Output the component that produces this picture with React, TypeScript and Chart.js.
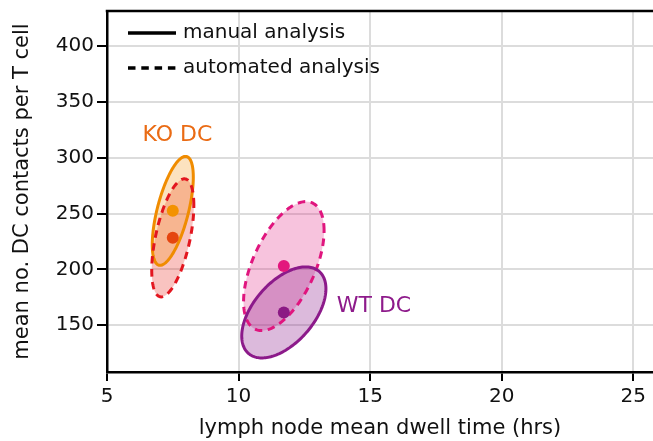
import React, { useEffect, useRef } from 'react';
import { Chart, registerables } from 'chart.js';

Chart.register(...registerables);

// ---- data ----
const groupNames = ['KO DC manual', 'KO DC automated', 'WT DC automated', 'WT DC manual'];
const meanDwellHrs = [7.5, 7.5, 11.72, 11.72];
const meanContacts = [252.4, 228.2, 202.9, 161.4];
const spreadDwellHrs = [0.78, 0.8, 1.53, 1.6];
const spreadContacts = [48.8, 52.9, 57.8, 40.8];
const spreadCorrelation = [0.62, 0.55, 0.55, 0.52];
const analysisMethod = ['manual', 'automated', 'automated', 'manual'];

const xTicks = [5, 10, 15, 20, 25];
const yTicks = [150, 200, 250, 300, 350, 400];
const xRange = [5, 25.75];
const yRange = [108, 431.5];

const groupLabels = ['KO DC', 'WT DC'];
const groupLabelDwell = [6.35, 13.73];
const groupLabelContacts = [320, 167];

const legendLabels = ['manual analysis', 'automated analysis'];
const xTitle = 'lymph node mean dwell time (hrs)';
const yTitle = 'mean no. DC contacts per T cell';

// ---- styles ----
const FONT = "'DejaVu Sans', sans-serif";
const strokeColors = ['#F08C00', '#E3161F', '#E0157E', '#8C1A8A'];
const fillColors = [
  'rgba(242,140,0,0.25)',
  'rgba(232,40,30,0.28)',
  'rgba(226,25,125,0.26)',
  'rgba(140,26,138,0.3)',
];
const pointColors = ['#F39200', '#E5450F', '#E3177D', '#8B1A84'];
const groupLabelColors = ['#EA6B14', '#8E1B8B'];

const ellipsePlugin = {
  id: 'ellipses',
  beforeDatasetsDraw(chart: any) {
    const { ctx, chartArea, scales } = chart;
    const xs = scales.x;
    const ys = scales.y;
    ctx.save();
    ctx.beginPath();
    ctx.rect(chartArea.left, chartArea.top, chartArea.right - chartArea.left, chartArea.bottom - chartArea.top);
    ctx.clip();
    const N = 180;
    const paths = meanDwellHrs.map((cx, i) => {
      const cy = meanContacts[i];
      const sx = spreadDwellHrs[i];
      const sy = spreadContacts[i];
      const r = spreadCorrelation[i];
      const q = Math.sqrt(1 - r * r);
      const pts: [number, number][] = [];
      for (let k = 0; k <= N; k++) {
        const t = (2 * Math.PI * k) / N;
        const dx = sx * Math.cos(t);
        const dy = sy * (r * Math.cos(t) + q * Math.sin(t));
        pts.push([xs.getPixelForValue(cx + dx), ys.getPixelForValue(cy + dy)]);
      }
      return pts;
    });
    const trace = (pts: [number, number][]) => {
      ctx.beginPath();
      pts.forEach(([px, py], k) => (k === 0 ? ctx.moveTo(px, py) : ctx.lineTo(px, py)));
      ctx.closePath();
    };
    const fillOrder = [1, 0, 2, 3];
    fillOrder.forEach((i) => {
      trace(paths[i]);
      ctx.fillStyle = fillColors[i];
      ctx.fill();
    });
    const strokeOrder = [0, 1, 2, 3];
    strokeOrder.forEach((i) => {
      trace(paths[i]);
      ctx.lineWidth = 3;
      ctx.lineJoin = 'round';
      ctx.strokeStyle = strokeColors[i];
      ctx.setLineDash(analysisMethod[i] === 'automated' ? [7.5, 5.5] : []);
      ctx.stroke();
    });
    ctx.restore();
  },
  afterDatasetsDraw(chart: any) {
    const { ctx, chartArea, scales } = chart;
    const xs = scales.x;
    const ys = scales.y;
    ctx.save();
    // top frame line
    ctx.strokeStyle = '#000';
    ctx.lineWidth = 2.5;
    ctx.beginPath();
    ctx.moveTo(chartArea.left - 1.25, chartArea.top);
    ctx.lineTo(chartArea.right, chartArea.top);
    ctx.stroke();
    // group labels
    ctx.font = `22px ${FONT}`;
    ctx.textAlign = 'left';
    ctx.textBaseline = 'middle';
    groupLabels.forEach((t, i) => {
      ctx.fillStyle = groupLabelColors[i];
      ctx.fillText(t, xs.getPixelForValue(groupLabelDwell[i]), ys.getPixelForValue(groupLabelContacts[i]));
    });
    // legend
    ctx.font = `20px ${FONT}`;
    ctx.fillStyle = '#111';
    legendLabels.forEach((t, i) => {
      const ly = chartArea.top + 22 + i * 35;
      const lx = chartArea.left + 21;
      ctx.beginPath();
      ctx.lineWidth = 3.5;
      ctx.strokeStyle = '#000';
      ctx.setLineDash(i === 0 ? [] : [7.5, 5.8]);
      ctx.moveTo(lx, ly);
      ctx.lineTo(lx + 48, ly);
      ctx.stroke();
      ctx.fillText(t, lx + 55, ly);
    });
    ctx.restore();
  },
};

export default function App() {
  const canvasRef = useRef<HTMLCanvasElement | null>(null);

  useEffect(() => {
    if (!canvasRef.current) return;
    const chart = new Chart(canvasRef.current, {
      type: 'scatter',
      data: {
        datasets: [
          {
            label: 'group means',
            data: meanDwellHrs.map((x, i) => ({ x, y: meanContacts[i] })),
            pointBackgroundColor: pointColors,
            pointBorderWidth: 0,
            pointRadius: 6,
            pointHoverRadius: 6,
          },
        ],
      },
      options: {
        animation: false,
        responsive: false,
        events: [],
        layout: { autoPadding: false, padding: { top: 11, right: 0, left: 0, bottom: 0 } },
        plugins: {
          legend: { display: false },
          tooltip: { enabled: false },
        },
        scales: {
          x: {
            type: 'linear',
            min: xRange[0],
            max: xRange[1],
            afterBuildTicks: (s: any) => {
              s.ticks = xTicks.map((v) => ({ value: v }));
            },
            afterFit: (s: any) => {
              s.height = 69;
              s.paddingRight = 0;
              s.paddingLeft = 0;
            },
            grid: {
              color: '#DCDCDC',
              lineWidth: 2,
              tickColor: '#000',
              tickWidth: 2,
              tickLength: 9,
            },
            border: { display: true, color: '#000', width: 2.5 },
            ticks: {
              color: '#111',
              font: { family: FONT, size: 20 },
              padding: 4,
              maxRotation: 0,
            },
            title: {
              display: true,
              text: xTitle,
              color: '#111',
              font: { family: FONT, size: 21 },
              padding: { top: 0, bottom: 0 },
            },
          },
          y: {
            type: 'linear',
            min: yRange[0],
            max: yRange[1],
            afterBuildTicks: (s: any) => {
              s.ticks = yTicks.map((v) => ({ value: v }));
            },
            afterFit: (s: any) => {
              s.width = 107;
              s.paddingTop = 0;
              s.paddingBottom = 0;
            },
            grid: {
              color: '#DCDCDC',
              lineWidth: 2,
              tickColor: '#000',
              tickWidth: 2,
              tickLength: 10,
            },
            border: { display: true, color: '#000', width: 2.5 },
            ticks: {
              color: '#111',
              font: { family: FONT, size: 20 },
              padding: 3,
            },
            title: {
              display: true,
              text: yTitle,
              color: '#111',
              font: { family: FONT, size: 21 },
              padding: { top: 10, bottom: 0 },
            },
          },
        },
      },
      plugins: [ellipsePlugin],
    });
    return () => chart.destroy();
  }, []);

  return (
    <div style={{ position: 'absolute', left: 0, top: 0, width: 653, height: 441 }}>
      <canvas ref={canvasRef} width={653} height={441} />
    </div>
  );
}
